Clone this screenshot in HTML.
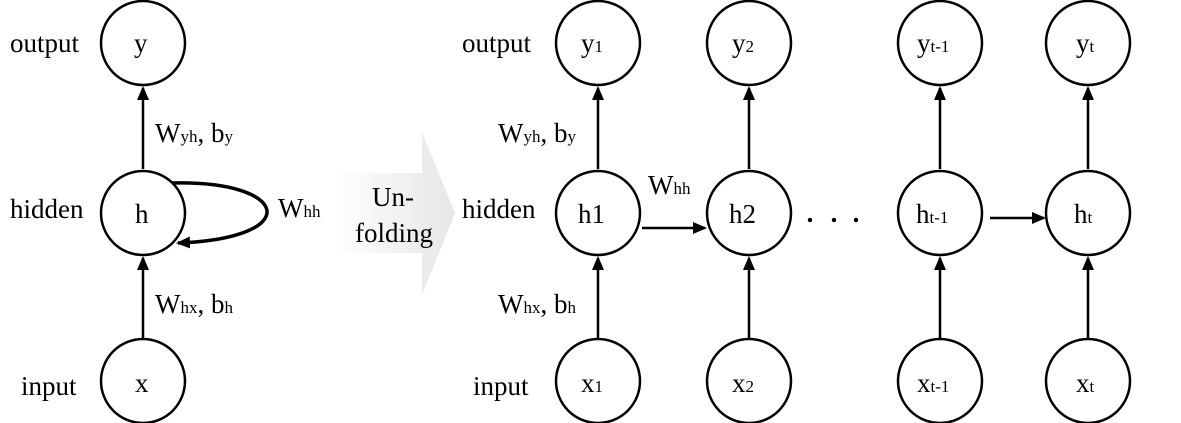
<!DOCTYPE html>
<html><head><meta charset="utf-8"><style>
html,body{margin:0;padding:0;background:#fff}
svg{display:block}
text{font-family:"Liberation Serif",serif;fill:#000}
.l{font-size:27px}
.s{font-size:17px}
</style></head><body>
<svg width="1181" height="423" viewBox="0 0 1181 423" xmlns="http://www.w3.org/2000/svg">
<defs>
<marker id="b" markerWidth="14" markerHeight="12" refX="12" refY="6" orient="auto" markerUnits="userSpaceOnUse">
<path d="M0,0 L14,6 L0,12 z" fill="#000"/></marker>
<linearGradient id="g" x1="0" x2="1" y1="0" y2="0">
<stop offset="0" stop-color="#fff"/><stop offset="1" stop-color="#e6e6e6"/></linearGradient>
</defs>
<path d="M335,173 L422,173 L422,132 L455,213 L422,295 L422,253 L335,253 z" fill="url(#g)"/>
<text class="l" x="372" y="206">Un-</text>
<text class="l" x="355" y="242">folding</text>

<g fill="none" stroke="#000" stroke-width="2.5">
<circle cx="143" cy="43" r="42"/>
<circle cx="143" cy="213" r="42"/>
<circle cx="143" cy="381" r="42"/>
<line x1="143" y1="169" x2="143" y2="88" marker-end="url(#b)"/>
<line x1="143" y1="338" x2="143" y2="258" marker-end="url(#b)"/>
<path d="M172,183 C290,180 305,238 178,243" stroke-width="3.5" marker-end="url(#b)"/>
</g>
<text class="l" x="10" y="52">output</text>
<text class="l" x="10" y="218">hidden</text>
<text class="l" x="21" y="395">input</text>
<text class="l" x="134" y="52">y</text>
<text class="l" x="135" y="223">h</text>
<text class="l" x="135" y="392">x</text>
<text class="l" x="155" y="142">W<tspan class="s">yh</tspan>, b<tspan class="s">y</tspan></text>
<text class="l" x="155" y="313">W<tspan class="s">hx</tspan>, b<tspan class="s">h</tspan></text>
<text class="l" x="278" y="217">W<tspan class="s">hh</tspan></text>

<g fill="none" stroke="#000" stroke-width="2.5">
<circle cx="598" cy="43" r="42"/><circle cx="598" cy="213" r="42"/><circle cx="598" cy="381" r="42"/>
<circle cx="749" cy="43" r="42"/><circle cx="749" cy="213" r="42"/><circle cx="749" cy="381" r="42"/>
<circle cx="940" cy="43" r="42"/><circle cx="940" cy="213" r="42"/><circle cx="940" cy="381" r="42"/>
<circle cx="1088" cy="43" r="42"/><circle cx="1088" cy="213" r="42"/><circle cx="1088" cy="381" r="42"/>
<line x1="598" y1="169" x2="598" y2="88" marker-end="url(#b)"/>
<line x1="598" y1="338" x2="598" y2="258" marker-end="url(#b)"/>
<line x1="749" y1="169" x2="749" y2="88" marker-end="url(#b)"/>
<line x1="749" y1="338" x2="749" y2="258" marker-end="url(#b)"/>
<line x1="940" y1="169" x2="940" y2="88" marker-end="url(#b)"/>
<line x1="940" y1="338" x2="940" y2="258" marker-end="url(#b)"/>
<line x1="1088" y1="169" x2="1088" y2="88" marker-end="url(#b)"/>
<line x1="1088" y1="338" x2="1088" y2="258" marker-end="url(#b)"/>
<line x1="642" y1="228" x2="705" y2="228" marker-end="url(#b)"/>
<line x1="990" y1="218" x2="1044" y2="218" marker-end="url(#b)"/>
</g>
<circle cx="810" cy="220" r="2.2" fill="#000"/>
<circle cx="834" cy="220" r="2.2" fill="#000"/>
<circle cx="856" cy="220" r="2.2" fill="#000"/>

<text class="l" x="462" y="52">output</text>
<text class="l" x="462" y="218">hidden</text>
<text class="l" x="473" y="395">input</text>
<text class="l" x="498" y="142">W<tspan class="s">yh</tspan>, b<tspan class="s">y</tspan></text>
<text class="l" x="498" y="313">W<tspan class="s">hx</tspan>, b<tspan class="s">h</tspan></text>
<text class="l" x="648" y="194">W<tspan class="s">hh</tspan></text>

<text class="l" x="581" y="52">y<tspan class="s">1</tspan></text>
<text class="l" x="732" y="52">y<tspan class="s">2</tspan></text>
<text class="l" x="917" y="52">y<tspan class="s">t-1</tspan></text>
<text class="l" x="1076" y="52">y<tspan class="s">t</tspan></text>
<text class="l" x="578" y="223">h1</text>
<text class="l" x="729" y="223">h2</text>
<text class="l" x="916" y="223">h<tspan class="s">t-1</tspan></text>
<text class="l" x="1074" y="223">h<tspan class="s">t</tspan></text>
<text class="l" x="581" y="392">x<tspan class="s">1</tspan></text>
<text class="l" x="732" y="392">x<tspan class="s">2</tspan></text>
<text class="l" x="917" y="392">x<tspan class="s">t-1</tspan></text>
<text class="l" x="1076" y="392">x<tspan class="s">t</tspan></text>
</svg>
</body></html>
